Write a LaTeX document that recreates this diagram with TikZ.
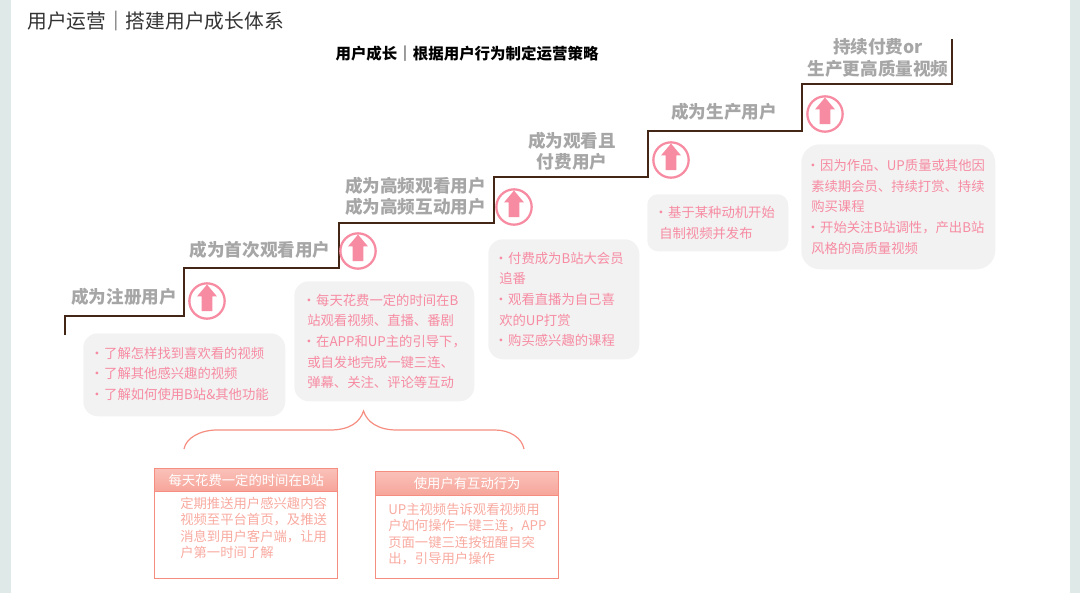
\documentclass[tikz,border=0pt]{standalone}
\usepackage{fontspec}
\setmainfont{Noto Sans CJK SC}
\usepackage{tikz}
\usetikzlibrary{positioning, shapes.arrows}

\definecolor{bandgreen}{HTML}{DFE9E8}
\definecolor{stairbrown}{HTML}{432616}
\definecolor{tagpink}{HTML}{F78BA2}
\definecolor{boxgray}{HTML}{F2F2F2}
\definecolor{tagsalmon}{HTML}{F58E80}
\newcommand{\dotmark}{\hspace{1.3pt}\makebox[0pt][c]{•}\hspace{5.4pt}}

\begin{document}
\begin{tikzpicture}[x=0.75pt, y=-0.75pt,
  band/.style={fill=bandgreen, draw=none},
  stair/.style={draw=stairbrown, line width=2.2pt, miter limit=4},
  stepname/.style={text=black!35, font=\fontsize{13.2}{16}\selectfont\bfseries, align=center, inner sep=0pt},
  updisc/.style={circle, draw=tagpink, line width=1.7pt, fill=white, minimum size=26.5pt, inner sep=0pt},
  uparrow/.style={single arrow, fill=tagpink, draw=none, rotate=90, minimum height=20pt, minimum width=14.5pt, single arrow head extend=3.5pt, single arrow tip angle=80, inner xsep=0pt, inner ysep=3.75pt},
  graybox/.style={anchor=north west, fill=boxgray, inner sep=0pt},
  boxtext/.style={text=tagpink, align=left, inner sep=0pt, font=\fontsize{10}{15.5}\selectfont},
  capbox/.style={anchor=north west, draw=tagsalmon, line width=1.1pt, minimum width=137.25pt, inner sep=0pt},
  caphead/.style={anchor=north west, draw=tagsalmon, line width=1.1pt, top color=tagsalmon!55, bottom color=tagsalmon!80, text=white, minimum width=137.25pt, inner sep=0pt, font=\fontsize{10}{13}\selectfont},
  captext/.style={anchor=north west, text=tagsalmon!75, align=left, inner sep=0pt, font=\fontsize{10}{12.2}\selectfont},
  brace/.style={draw=tagsalmon, line width=0.9pt}]

\useasboundingbox (0,0) rectangle (1080,593);

\fill[band] (0,0) rectangle (11,593);
\fill[band] (1070,0) rectangle (1080,593);

\node[anchor=west, inner sep=0pt, text=black!80, font=\fontsize{14.8}{18}\selectfont] (title) at (27,21) {用户运营｜搭建用户成长体系};
\node[inner sep=0pt, text=black, font=\fontsize{11.6}{14}\selectfont\bfseries] (subtitle) at (467,54) {用户成长｜根据用户行为制定运营策略};

% staircase
\coordinate (s0) at (65,335);
\coordinate (s1) at (65,316);
\coordinate (s2) at (184,316);
\coordinate (s3) at (184,268);
\coordinate (s4) at (339,268);
\coordinate (s5) at (339,223);
\coordinate (s6) at (494,223);
\coordinate (s7) at (494,177);
\coordinate (s8) at (648,177);
\coordinate (s9) at (648,131);
\coordinate (s10) at (802,131);
\coordinate (s11) at (802,84);
\coordinate (s12) at (952,84);
\coordinate (s13) at (952,39);
\draw[stair] (s0) -- (s1) -- (s2) -- (s3) -- (s4) -- (s5) -- (s6) -- (s7) -- (s8) -- (s9) -- (s10) -- (s11) -- (s12) -- (s13);

\node[stepname] (name1) at (124,297) {成为注册用户};
\node[stepname] (name2) at (260,250) {成为首次观看用户};
\node[stepname] (name3) at (415.5,196) {成为高频观看用户\\成为高频互动用户};
\node[stepname] (name4) at (572,151) {成为观看且\\付费用户};
\node[stepname] (name5) at (724,112) {成为生产用户};
\node[stepname] (name6) at (878,58) {持续付费or\\生产更高质量视频};

\foreach \i/\x/\y in {1/207/301, 2/358/251, 3/514/207, 4/671/160, 5/825/114}{
  \node[updisc] (disc\i) at (\x,\y) {};
  \node[uparrow] (arrow\i) at (disc\i) {};
}

\node[graybox, rounded corners=11pt, minimum width=151.5pt, minimum height=62.25pt] (box1) at (83,333) {};
\node[boxtext, right=9pt of box1.west, yshift=0.75pt] (text1) {\dotmark 了解怎样找到喜欢看的视频\\\dotmark 了解其他感兴趣的视频\\\dotmark 了解如何使用B站\&其他功能};
\node[graybox, rounded corners=11pt, minimum width=135pt, minimum height=90pt] (box2) at (294,281) {};
\node[boxtext, right=9.75pt of box2.west] (text2) {\dotmark 每天花费一定的时间在B\\站观看视频、直播、番剧\\\dotmark 在APP和UP主的引导下，\\或自发地完成一键三连、\\弹幕、关注、评论等互动};
\node[graybox, rounded corners=11pt, minimum width=113.25pt, minimum height=90pt] (box3) at (488,239) {};
\node[boxtext, right=8.25pt of box3.west] (text3) {\dotmark 付费成为B站大会员\\追番\\\dotmark 观看直播为自己喜\\欢的UP打赏\\\dotmark 购买感兴趣的课程};
\node[graybox, rounded corners=8pt, minimum width=105.75pt, minimum height=42.75pt] (box4) at (647,194) {};
\node[boxtext, right=9pt of box4.west] (text4) {\dotmark 基于某种动机开始\\自制视频并发布};
\node[graybox, rounded corners=14pt, minimum width=145.5pt, minimum height=93.75pt] (box5) at (801,144) {};
\node[boxtext, right=7.5pt of box5.west] (text5) {\dotmark 因为作品、UP质量或其他因\\素续期会员、持续打赏、持续\\购买课程\\\dotmark 开始关注B站调性，产出B站\\风格的高质量视频};

% brace under box2
\coordinate (b0) at (184,449);
\coordinate (b1) at (217,430);
\coordinate (b2) at (330,430);
\coordinate (b3) at (363.5,411);
\coordinate (b4) at (397,430);
\coordinate (b5) at (495,430);
\coordinate (b6) at (524,449);
\draw[brace] (b0) .. controls (186,438) and (200,430) .. (b1) -- (b2) .. controls (350,430) and (360,422) .. (b3) .. controls (367,422) and (378,430) .. (b4) -- (b5) .. controls (510,430) and (522,438) .. (b6);

\node[capbox, minimum height=82.5pt] (cardL) at (154,468) {};
\node[caphead, minimum height=17.25pt] (headL) at (154,468) {每天花费一定的时间在B站};
\node[captext] (textL) at (180,497) {定期推送用户感兴趣内容\\视频至平台首页，及推送\\消息到用户客户端，让用\\户第一时间了解};

\node[capbox, minimum height=80.25pt] (cardR) at (375,471) {};
\node[caphead, minimum height=18pt] (headR) at (375,471) {使用户有互动行为};
\node[captext] (textR) at (388,503) {UP主视频告诉观看视频用\\户如何操作一键三连，APP\\页面一键三连按钮醒目突\\出，引导用户操作};

\end{tikzpicture}
\end{document}
